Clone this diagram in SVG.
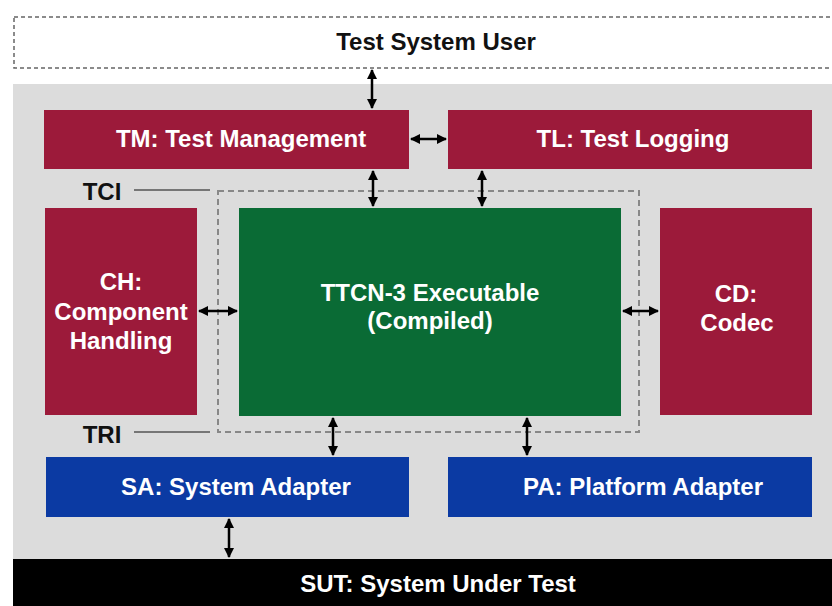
<svg xmlns="http://www.w3.org/2000/svg" width="832" height="606" viewBox="0 0 832 606">
<defs>
<marker id="ah" viewBox="0 0 10 10" refX="9" refY="5" markerWidth="4" markerHeight="4" orient="auto-start-reverse" markerUnits="strokeWidth">
<path d="M0,0 L10,5 L0,10 Z" fill="#000"/>
</marker>
<style>
text{font-family:"Liberation Sans",Arial,sans-serif;font-weight:bold;font-size:24px;text-anchor:middle}
.w{fill:#fff}
.k{fill:#111}
.red{fill:#9c1a3a}
.grn{fill:#0a6b35}
.blu{fill:#0b3aa3}
.con{stroke:#000;stroke-width:2.5;fill:none;marker-start:url(#ah);marker-end:url(#ah)}
.lbl{stroke:#555;stroke-width:1.5}
</style>
</defs>
<rect x="0" y="0" width="832" height="606" fill="#fff"/>
<rect x="13" y="84" width="819" height="476" fill="#dcdcdc"/>
<g id="user">
<rect x="14" y="17" width="830" height="51" fill="#fff" stroke="#666" stroke-width="1.5" stroke-dasharray="4 3"/>
<text x="436" y="50" class="k">Test System User</text>
</g>
<g id="tci-tri">
<rect x="218" y="191" width="421" height="241" fill="none" stroke="#888" stroke-width="2" stroke-dasharray="6 4"/>
<text x="102" y="200" class="k">TCI</text>
<line x1="134" y1="190" x2="210" y2="190" class="lbl"/>
<text x="102" y="443" class="k">TRI</text>
<line x1="134" y1="432" x2="210" y2="432" class="lbl"/>
</g>
<g id="tm">
<rect x="44" y="110" width="365" height="59" class="red"/>
<text x="241" y="147" class="w">TM: Test Management</text>
</g>
<g id="tl">
<rect x="448" y="110" width="364" height="59" class="red"/>
<text x="633" y="147" class="w">TL: Test Logging</text>
</g>
<g id="ch">
<rect x="45" y="208" width="152" height="207" class="red"/>
<text x="121" y="290" class="w">CH:</text>
<text x="121" y="320" class="w">Component</text>
<text x="121" y="349" class="w">Handling</text>
</g>
<g id="te">
<rect x="239" y="208" width="382" height="208" class="grn"/>
<text x="430" y="301" class="w">TTCN-3 Executable</text>
<text x="430" y="329" class="w">(Compiled)</text>
</g>
<g id="cd">
<rect x="660" y="208" width="152" height="207" class="red"/>
<text x="736" y="302" class="w">CD:</text>
<text x="737" y="331" class="w">Codec</text>
</g>
<g id="sa">
<rect x="46" y="457" width="363" height="60" class="blu"/>
<text x="236" y="495" class="w">SA: System Adapter</text>
</g>
<g id="pa">
<rect x="448" y="457" width="364" height="60" class="blu"/>
<text x="643" y="495" class="w">PA: Platform Adapter</text>
</g>
<g id="sut">
<rect x="13" y="559" width="819" height="47" fill="#000"/>
<text x="438" y="592" class="w">SUT: System Under Test</text>
</g>
<g id="connectors">
<line x1="372" y1="70" x2="372" y2="108" class="con"/>
<line x1="411" y1="139" x2="446" y2="139" class="con"/>
<line x1="373" y1="171" x2="373" y2="206" class="con"/>
<line x1="482" y1="171" x2="482" y2="206" class="con"/>
<line x1="199" y1="311" x2="237" y2="311" class="con"/>
<line x1="623" y1="311" x2="658" y2="311" class="con"/>
<line x1="333" y1="418" x2="333" y2="455" class="con"/>
<line x1="527" y1="418" x2="527" y2="455" class="con"/>
<line x1="229" y1="519" x2="229" y2="557" class="con"/>
</g>
</svg>
